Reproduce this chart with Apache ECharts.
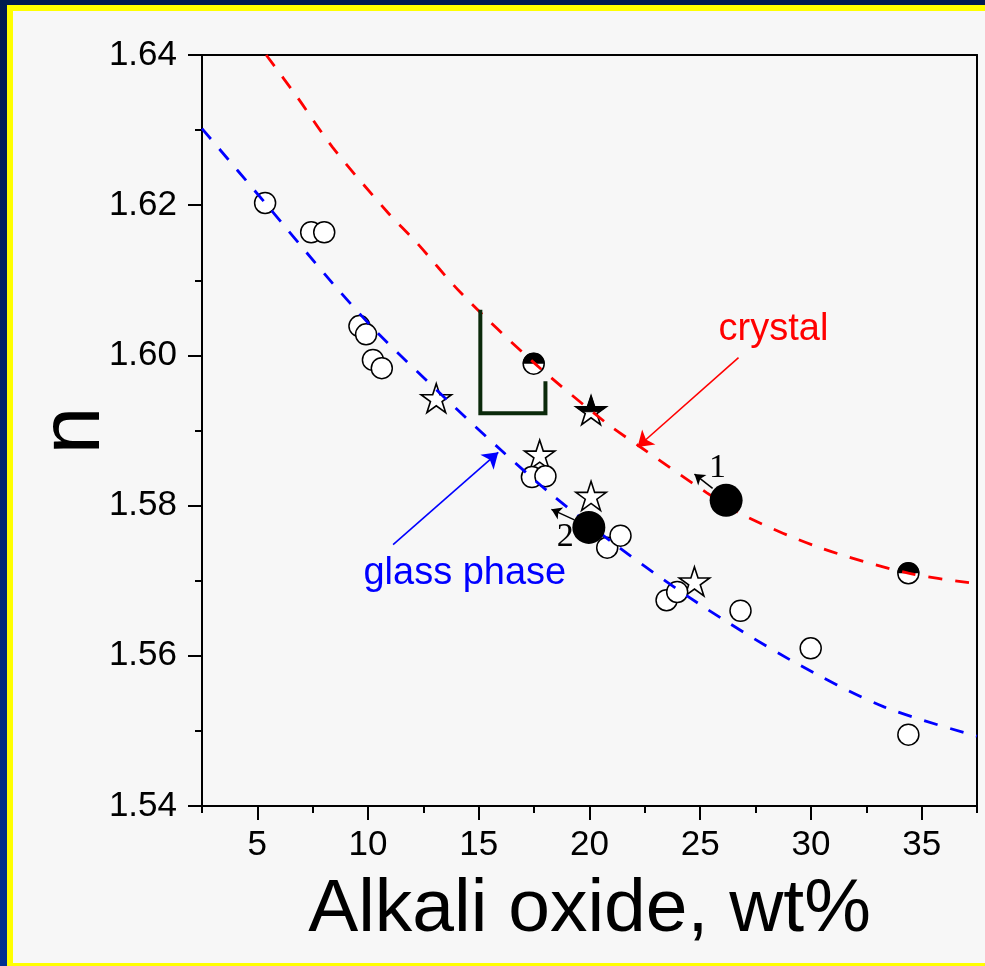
<!DOCTYPE html>
<html><head><meta charset="utf-8">
<script src="https://cdn.jsdelivr.net/npm/echarts@6/dist/echarts.min.js"></script>
<style>
html,body{margin:0;padding:0;width:985px;height:966px;overflow:hidden;background:linear-gradient(#001a50,#003090);}
#frame{position:absolute;left:7px;top:5px;width:978px;height:961px;background:#ffff00;}
#inner{position:absolute;left:13px;top:11px;width:972px;height:952px;background:#f7f7f7;}
#chart{position:absolute;left:0;top:0;width:985px;height:966px;}
</style></head><body>
<div id="frame"></div><div id="inner"></div><div id="chart"></div>
<script>
// ---- data ----
const xTickValues = [5, 10, 15, 20, 25, 30, 35];
const xMinorTicks = [2.5, 7.5, 12.5, 17.5, 22.5, 27.5, 32.5, 37.5];
const glassCircles = [[5.35,1.6203],[7.43,1.6164],[8.02,1.6164],[9.61,1.6039],[9.91,1.6028],[10.22,1.5994],[10.62,1.5983],[17.4,1.5838],[18.01,1.5839],[20.8,1.5744],[21.4,1.5760],[23.48,1.5674],[23.96,1.5685],[26.82,1.5660],[29.99,1.5610],[34.4,1.5495]];
const halfCircles = [[17.48,1.5989],[34.4,1.5710]];
const openStars = [[13.08,1.5941],[17.75,1.5866],[20.07,1.5811],[24.74,1.5697]];
const halfStars = [[20.07,1.5925]];
const bigDots = [[26.17,1.5807],[19.97,1.5771]];
const crystalCurve = [[5.4,1.6400],[6.8,1.6344],[8.4,1.6277],[10.9,1.6190],[12.2,1.6150],[14.2,1.6083],[17.5,1.5990],[20.8,1.5909],[22.3,1.5878],[25.3,1.5817],[27.1,1.5785],[30.4,1.5744],[34.4,1.5710],[37.5,1.5696]];
const glassCurve = [[2.5,1.6302],[5.35,1.6203],[8.4,1.6096],[10.4,1.6031],[13.7,1.5937],[16.0,1.5874],[18.2,1.5817],[21.3,1.5745],[24.9,1.5670],[29.1,1.5594],[33.3,1.5532],[37.5,1.5493]];
const bracket = [[15.07,1.6058],[15.07,1.5923],[18.01,1.5923],[18.01,1.5963]];
const crystalArrow = [[26.73,1.5997],[22.17,1.5878]];
const glassArrow = [[11.13,1.5748],[15.88,1.5871]];
const arrow1 = [[25.56,1.5823],[24.74,1.5842]];
const arrow2 = [[19.32,1.5781],[18.28,1.5795]];
const labelCrystal = ['crystal', 28.31, 1.6034];
const labelGlass = ['glass phase', 14.37, 1.5710];
const label1 = ['1', 25.78, 1.5850];
const label2 = ['2', 18.91, 1.5758];

// ---- marker geometry ----
function starPoints(cx, cy, R) {
  const pts = [];
  for (let i = 0; i < 10; i++) {
    const r = i % 2 === 0 ? R : R * 0.382;
    const a = -Math.PI / 2 + i * Math.PI / 5;
    pts.push([cx + r * Math.cos(a), cy + r * Math.sin(a)]);
  }
  return pts;
}
function clipTop(pts, yc) {
  const out = [];
  for (let i = 0; i < pts.length; i++) {
    const p = pts[i], q = pts[(i + 1) % pts.length];
    const pin = p[1] <= yc, qin = q[1] <= yc;
    if (pin) out.push(p);
    if (pin !== qin) {
      const t = (yc - p[1]) / (q[1] - p[1]);
      out.push([p[0] + t * (q[0] - p[0]), yc]);
    }
  }
  return out;
}
const STAR_R = 16;
const FONT = 'Liberation Sans, Arial, sans-serif';
const SERIF = 'Liberation Serif, Times New Roman, serif';

const chart = echarts.init(document.getElementById('chart'), null, {renderer: 'canvas'});

const axisLineStyle = {color: '#000', width: 2};
function textItem(lbl, color, size, family) {
  return {
    type: 'text',
    style: {text: lbl, fill: color, fontSize: size, fontFamily: family, align: 'center', verticalAlign: 'middle'}
  };
}
const textData = [
  [labelCrystal[1], labelCrystal[2], 0],
  [labelGlass[1], labelGlass[2], 1],
  [label1[1], label1[2], 2],
  [label2[1], label2[2], 3]
];
const textDefs = [
  [labelCrystal[0], '#ff0000', 38, FONT],
  [labelGlass[0], '#0000ff', 38, FONT],
  [label1[0], '#000000', 34, SERIF],
  [label2[0], '#000000', 34, SERIF]
];

const option = {
  animation: false,
  backgroundColor: 'transparent',
  grid: {left: 202, top: 55, right: 8, bottom: 160, containLabel: false},
  xAxis: [
    {
      type: 'value', min: 2.5, max: 37.5, position: 'bottom',
      name: 'Alkali oxide, wt%', nameLocation: 'middle', nameGap: 67, nameMoveOverlap: false,
      nameTextStyle: {fontSize: 75, color: '#000', fontFamily: FONT},
      axisLine: {show: true, onZero: false, lineStyle: axisLineStyle},
      axisTick: {show: true, inside: false, length: 14, lineStyle: axisLineStyle, customValues: xTickValues},
      axisLabel: {show: true, customValues: xTickValues, fontSize: 35, color: '#000', margin: 22, fontFamily: FONT},
      splitLine: {show: false}
    },
    {
      type: 'value', min: 2.5, max: 37.5, position: 'bottom',
      axisLine: {show: false},
      axisTick: {show: true, inside: false, length: 7, lineStyle: axisLineStyle, customValues: xMinorTicks},
      axisLabel: {show: false}, splitLine: {show: false}
    },
    {
      type: 'value', min: 2.5, max: 37.5, position: 'top',
      axisLine: {show: true, onZero: false, lineStyle: axisLineStyle},
      axisTick: {show: false}, axisLabel: {show: false}, splitLine: {show: false}
    }
  ],
  yAxis: [
    {
      type: 'value', min: 1.54, max: 1.64, interval: 0.02, position: 'left',
      name: 'n', nameLocation: 'middle', nameGap: 84, nameMoveOverlap: false,
      nameTextStyle: {fontSize: 86, color: '#000', fontFamily: FONT},
      axisLine: {show: true, onZero: false, lineStyle: axisLineStyle},
      axisTick: {show: true, inside: false, length: 14, lineStyle: axisLineStyle},
      minorTick: {show: true, splitNumber: 2, length: 7, lineStyle: axisLineStyle},
      axisLabel: {show: true, fontSize: 35, color: '#000', margin: 25, fontFamily: FONT,
        formatter: v => v.toFixed(2)},
      splitLine: {show: false}, minorSplitLine: {show: false}
    },
    {
      type: 'value', min: 1.54, max: 1.64, position: 'right',
      axisLine: {show: true, onZero: false, lineStyle: axisLineStyle},
      axisTick: {show: false}, axisLabel: {show: false}, splitLine: {show: false}
    }
  ],
  series: [
    {
      name: 'glass', type: 'scatter', z: 2, data: glassCircles,
      symbol: 'circle', symbolSize: 21,
      itemStyle: {color: '#fff', borderColor: '#000', borderWidth: 1.5, opacity: 1},
      emphasis: {disabled: true}
    },
    {
      name: 'halfCircles', type: 'custom', z: 2, data: halfCircles,
      renderItem: (params, api) => {
        const c = api.coord([api.value(0), api.value(1)]);
        return {type: 'group', children: [
          {type: 'circle', shape: {cx: c[0], cy: c[1], r: 10.5}, style: {fill: '#fff', stroke: '#000', lineWidth: 1.5}},
          {type: 'sector', shape: {cx: c[0], cy: c[1], r0: 0, r: 11, startAngle: Math.PI, endAngle: 2 * Math.PI}, style: {fill: '#000'}}
        ]};
      }
    },
    {
      name: 'openStars', type: 'custom', z: 2, data: openStars,
      renderItem: (params, api) => {
        const c = api.coord([api.value(0), api.value(1)]);
        return {type: 'polygon', shape: {points: starPoints(c[0], c[1], STAR_R)}, style: {fill: '#fff', stroke: '#000', lineWidth: 1.6}};
      }
    },
    {
      name: 'halfStars', type: 'custom', z: 2, data: halfStars,
      renderItem: (params, api) => {
        const c = api.coord([api.value(0), api.value(1)]);
        const pts = starPoints(c[0], c[1], STAR_R);
        return {type: 'group', children: [
          {type: 'polygon', shape: {points: pts}, style: {fill: '#fff', stroke: '#000', lineWidth: 1.6}},
          {type: 'polygon', shape: {points: clipTop(pts, c[1])}, style: {fill: '#000', stroke: '#000', lineWidth: 1}}
        ]};
      }
    },
    {
      name: 'crystalCurve', type: 'line', z: 3, data: crystalCurve, smooth: 0.3,
      showSymbol: false, symbol: 'none',
      lineStyle: {color: '#ff0000', width: 2.8, type: [14, 13]}, emphasis: {disabled: true}
    },
    {
      name: 'glassCurve', type: 'line', z: 3, data: glassCurve, smooth: 0.3,
      showSymbol: false, symbol: 'none',
      lineStyle: {color: '#0000ff', width: 2.8, type: [14, 13]}, emphasis: {disabled: true}
    },
    {
      name: 'bracket', type: 'line', z: 3, data: bracket, symbol: 'none',
      lineStyle: {color: '#0b2a0b', width: 4, cap: 'square', join: 'miter'}, emphasis: {disabled: true}
    },
    {
      name: 'bigDots', type: 'scatter', z: 4, data: bigDots,
      symbol: 'circle', symbolSize: 33,
      itemStyle: {color: '#000', opacity: 1}, emphasis: {disabled: true}
    },
    {
      name: 'arrowsColor', type: 'lines', coordinateSystem: 'cartesian2d', z: 5,
      symbol: ['none', 'arrow'], symbolSize: [11, 15],
      data: [
        {coords: crystalArrow, lineStyle: {color: '#ff0000', width: 1.6}},
        {coords: glassArrow, lineStyle: {color: '#0000ff', width: 1.6}}
      ],
      lineStyle: {curveness: 0, opacity: 1}
    },
    {
      name: 'arrowsBlack', type: 'lines', coordinateSystem: 'cartesian2d', z: 5,
      symbol: ['none', 'arrow'], symbolSize: [7, 10],
      data: [
        {coords: arrow1, lineStyle: {color: '#000', width: 1.5}},
        {coords: arrow2, lineStyle: {color: '#000', width: 1.5}}
      ],
      lineStyle: {curveness: 0, opacity: 1}
    },
    {
      name: 'texts', type: 'custom', z: 6, data: textData,
      renderItem: (params, api) => {
        const c = api.coord([api.value(0), api.value(1)]);
        const d = textDefs[api.value(2)];
        const el = textItem(d[0], d[1], d[2], d[3]);
        el.x = c[0]; el.y = c[1];
        return el;
      }
    }
  ]
};
chart.setOption(option);
</script></body></html>
